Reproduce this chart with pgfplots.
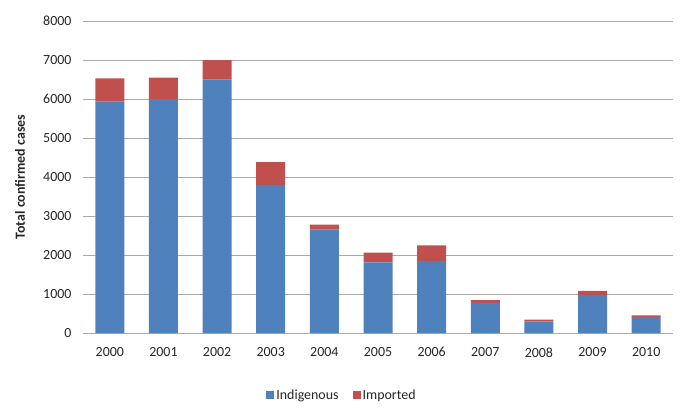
\documentclass[border=0pt]{standalone}
\usepackage{pgfplots}
\pgfplotsset{compat=1.18}
\usepackage{fontspec}
\setmainfont{Carlito}
\usetikzlibrary{calc}
\definecolor{indig}{HTML}{4F81BD}
\definecolor{impor}{HTML}{C0504D}
\definecolor{gridc}{HTML}{AAAAAA}
\definecolor{txt}{HTML}{262626}

\begin{document}
\begin{tikzpicture}
\begin{axis}[
  scale only axis,
  width=590bp, height=312bp,
  ybar stacked,
  bar width=29bp,
  xmin=-0.5, xmax=10.5,
  ymin=0, ymax=8000,
  xtick={0,...,10},
  xticklabels={2000,2001,2002,2003,2004,2005,2006,2007,2008,2009,2010},
  ytick={0,1000,...,8000},
  ymajorgrids,
  grid style={gridc, line width=0.8pt},
  axis x line*=bottom,
  axis y line*=left,
  x axis line style={gridc, line width=0.8pt, -},
  y axis line style={draw=none},
  tick style={draw=none},
  /pgf/number format/assume math mode=true,
  /pgf/number format/1000 sep={},
  ticklabel style={font=\fontsize{14}{16}\selectfont, text=txt},
  yticklabel style={xshift=-8bp},
  xticklabel style={yshift=-11bp},
  ylabel={\bfseries Total confirmed cases},
  ylabel style={at={(axis description cs:0,0.5)}, anchor=center, yshift=63bp, font=\fontsize{14}{16}\selectfont, text=txt},
  legend style={at={(axis description cs:0.439,-0.199)}, anchor=center, draw=none,
    legend columns=2, font=\fontsize{14}{16}\selectfont, text=txt,
    /tikz/every even column/.append style={column sep=12bp},
    legend cell align=left},
  legend image code/.code={\fill[#1] (0bp,-4bp) rectangle (8bp,4bp);},
  every axis plot/.append style={draw=none},
]
\addplot[fill=indig] coordinates {
  (0,5930) (1,6000) (2,6500) (3,3800) (4,2660) (5,1810)
  (6,1850) (7,770) (8,300) (9,970) (10,410)};
\addplot[fill=impor] coordinates {
  (0,600) (1,550) (2,500) (3,580) (4,120) (5,250)
  (6,400) (7,70) (8,45) (9,110) (10,45)};
\legend{Indigenous, Imported}
\coordinate (o) at (rel axis cs:0,0);
\end{axis}
\pgfresetboundingbox
\path[use as bounding box] ($(o)+(-83bp,-79bp)$) rectangle ++(685bp,412bp);
\end{tikzpicture}
\end{document}
